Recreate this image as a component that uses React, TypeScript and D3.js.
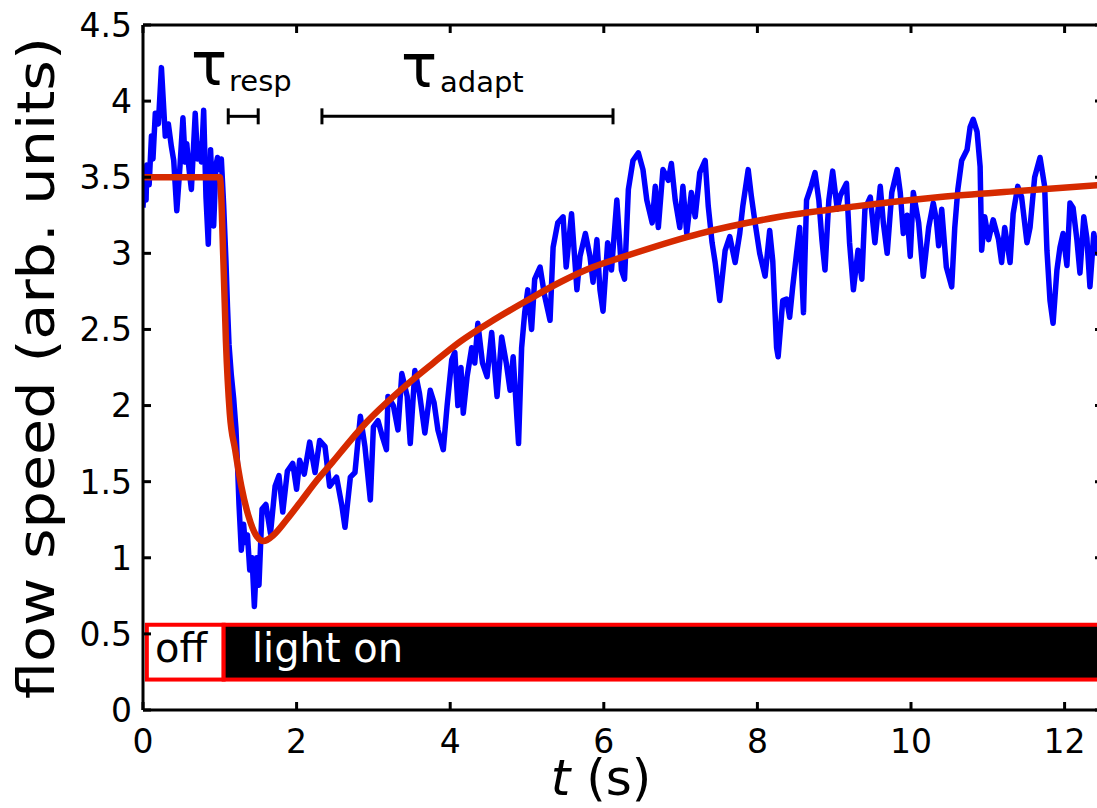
import React from "react";
import * as d3 from "d3";

// ---- data ----
const blueT = [
  0.00, 0.02, 0.04, 0.05, 0.08, 0.11, 0.13, 0.16, 0.20, 0.24, 0.27, 0.29, 0.33, 0.37, 0.40, 0.44, 0.48, 0.52, 0.55, 0.57,
  0.60, 0.63, 0.68, 0.71, 0.73, 0.76, 0.79, 0.82, 0.85, 0.88, 0.92, 0.95, 0.97, 1.00, 1.02, 1.05, 1.08, 1.10, 1.12, 1.15,
  1.18, 1.21, 1.23, 1.25, 1.28, 1.31, 1.33, 1.36, 1.39, 1.42, 1.45, 1.48, 1.51, 1.55, 1.60, 1.66, 1.72, 1.77, 1.82, 1.88,
  1.95, 2.00, 2.04, 2.10, 2.17, 2.24, 2.30, 2.37, 2.43, 2.52, 2.59, 2.63, 2.70, 2.76, 2.83, 2.89, 2.96, 3.00, 3.06, 3.12,
  3.17, 3.19, 3.26, 3.32, 3.37, 3.44, 3.48, 3.54, 3.60, 3.67, 3.74, 3.79, 3.84, 3.91, 3.96, 4.02, 4.06, 4.10, 4.14, 4.17,
  4.22, 4.28, 4.32, 4.36, 4.42, 4.48, 4.54, 4.61, 4.67, 4.73, 4.78, 4.82, 4.87, 4.89, 4.93, 4.97, 5.01, 5.06, 5.10, 5.17,
  5.23, 5.30, 5.34, 5.40, 5.47, 5.51, 5.58, 5.65, 5.69, 5.76, 5.82, 5.86, 5.91, 5.95, 5.99, 6.05, 6.10, 6.17, 6.23, 6.27,
  6.32, 6.38, 6.45, 6.51, 6.56, 6.63, 6.67, 6.71, 6.77, 6.84, 6.88, 6.93, 6.99, 7.03, 7.08, 7.14, 7.19, 7.25, 7.32, 7.36,
  7.41, 7.45, 7.51, 7.58, 7.64, 7.71, 7.77, 7.81, 7.88, 7.92, 7.97, 8.03, 8.10, 8.16, 8.20, 8.25, 8.27, 8.33, 8.38, 8.42,
  8.46, 8.51, 8.55, 8.60, 8.64, 8.70, 8.75, 8.80, 8.84, 8.88, 8.93, 8.98, 9.04, 9.08, 9.16, 9.20, 9.25, 9.31, 9.36, 9.40,
  9.47, 9.53, 9.60, 9.64, 9.69, 9.75, 9.82, 9.86, 9.90, 9.95, 9.99, 10.03, 10.10, 10.16, 10.23, 10.29, 10.33, 10.36, 10.40, 10.46,
  10.53, 10.57, 10.61, 10.66, 10.73, 10.77, 10.81, 10.86, 10.90, 10.92, 10.96, 11.01, 11.07, 11.14, 11.18, 11.22, 11.29, 11.33, 11.39, 11.44,
  11.51, 11.55, 11.61, 11.68, 11.74, 11.77, 11.81, 11.85, 11.90, 11.94, 11.98, 12.03, 12.07, 12.11, 12.16, 12.20, 12.25, 12.29, 12.33, 12.38,
  12.42, 12.50,
];
const blueV = [
  3.30, 3.50, 3.35, 3.58, 3.45, 3.77, 3.62, 3.92, 3.85, 4.22, 3.95, 3.77, 3.85, 3.70, 3.61, 3.28, 3.56, 3.89, 3.60, 3.72,
  3.55, 3.42, 3.92, 3.62, 3.72, 3.60, 3.94, 3.37, 3.06, 3.68, 3.18, 3.58, 3.63, 3.55, 3.62, 3.32, 2.95, 2.65, 2.40, 2.20,
  2.05, 1.85, 1.62, 1.35, 1.05, 1.22, 1.10, 1.15, 0.92, 1.00, 0.68, 1.00, 0.82, 1.32, 1.35, 1.16, 1.47, 1.54, 1.30, 1.57,
  1.62, 1.45, 1.64, 1.55, 1.76, 1.56, 1.77, 1.73, 1.47, 1.53, 1.34, 1.20, 1.53, 1.56, 1.93, 1.73, 1.38, 1.86, 1.90, 1.79,
  1.71, 2.06, 2.00, 1.84, 2.21, 2.06, 1.75, 2.23, 2.08, 1.82, 2.10, 2.02, 1.84, 1.71, 2.00, 2.30, 2.35, 2.00, 2.25, 1.95,
  2.19, 2.38, 2.28, 2.54, 2.28, 2.19, 2.48, 2.06, 2.45, 2.28, 2.10, 2.32, 1.91, 1.75, 2.38, 2.61, 2.76, 2.50, 2.83, 2.91,
  2.72, 2.56, 3.04, 3.20, 3.24, 2.91, 3.26, 2.76, 2.98, 3.13, 2.98, 2.81, 3.09, 2.76, 2.62, 3.07, 2.89, 3.35, 2.89, 2.83,
  3.42, 3.61, 3.66, 3.55, 3.35, 3.20, 3.44, 3.17, 3.55, 3.48, 3.59, 3.35, 3.17, 3.44, 3.13, 3.40, 3.24, 3.53, 3.61, 3.31,
  3.07, 2.94, 2.69, 3.02, 3.11, 2.94, 3.13, 3.31, 3.55, 3.38, 3.20, 3.00, 2.85, 3.15, 2.95, 2.38, 2.32, 2.69, 2.70, 2.58,
  2.78, 3.00, 3.17, 2.61, 3.35, 3.44, 3.53, 3.35, 3.09, 2.89, 3.35, 3.54, 3.29, 3.38, 3.46, 3.07, 2.76, 3.02, 2.83, 3.29,
  3.37, 3.07, 3.44, 3.20, 3.00, 3.40, 3.55, 3.40, 3.13, 3.25, 2.98, 3.40, 3.20, 2.85, 3.17, 3.33, 3.22, 3.05, 3.29, 2.91,
  2.78, 3.17, 3.42, 3.61, 3.68, 3.83, 3.88, 3.80, 3.57, 3.02, 3.24, 3.09, 3.22, 3.09, 2.94, 3.17, 2.94, 3.26, 3.44, 3.37,
  3.07, 3.17, 3.50, 3.63, 3.44, 3.02, 2.69, 2.54, 2.89, 3.04, 3.13, 2.92, 3.33, 3.30, 3.09, 2.87, 3.24, 3.10, 2.78, 3.13,
  3.00, 3.05,
];

const fitT = [0, 1.0, 1.05, 1.08, 1.13, 1.2, 1.28, 1.37, 1.47, 1.57, 1.7, 1.87, 2.04, 2.25, 2.47, 2.7, 2.91, 3.35, 3.78, 4.13, 4.56, 5.0, 5.43, 5.86, 6.21, 7.25, 8.29, 9.3, 10.38, 11.4, 12.5];
const fitV = [3.5, 3.5, 2.9, 2.42, 1.95, 1.71, 1.47, 1.28, 1.15, 1.11, 1.15, 1.25, 1.36, 1.5, 1.63, 1.77, 1.89, 2.1, 2.28, 2.42, 2.56, 2.69, 2.81, 2.91, 2.97, 3.13, 3.24, 3.31, 3.37, 3.41, 3.45];

const xTicks = [0, 2, 4, 6, 8, 10, 12];
const yTicks = [0, 0.5, 1, 1.5, 2, 2.5, 3, 3.5, 4, 4.5];
const yTickLabels = ["0", "0.5", "1", "1.5", "2", "2.5", "3", "3.5", "4", "4.5"];

const lightBar = { offStart: 0.05, onStart: 1.05, end: 12.45, low: 0.2, high: 0.56 };
const tauResp = { from: 1.11, to: 1.5, level: 3.9 };
const tauAdapt = { from: 2.33, to: 6.12, level: 3.9 };

const W = 1097;
const H = 808;
const FONT = "'DejaVu Sans', sans-serif";

export default function App() {
  const x = d3.scaleLinear().domain([0, 12.5]).range([143, 1103]);
  const y = d3.scaleLinear().domain([0, 4.5]).range([710, 25]);

  const blue = blueT.map((t, i) => [t, blueV[i]] as [number, number]);
  const fit = fitT.map((t, i) => [t, fitV[i]] as [number, number]);
  const line = d3.line<[number, number]>().x((d) => x(d[0])).y((d) => y(d[1]));
  const fitLine = d3
    .line<[number, number]>()
    .x((d) => x(d[0]))
    .y((d) => y(d[1]))
    .curve(d3.curveMonotoneX);

  const [x0, x1] = x.range();
  const [y0, y1] = y.range();
  const tick = 8;

  const bracket = (b: { from: number; to: number; level: number }) => {
    const yy = y(b.level);
    return (
      <g stroke="#000" strokeWidth={3} fill="none">
        <line x1={x(b.from)} x2={x(b.to)} y1={yy} y2={yy} />
        <line x1={x(b.from)} x2={x(b.from)} y1={yy - 8} y2={yy + 8} />
        <line x1={x(b.to)} x2={x(b.to)} y1={yy - 8} y2={yy + 8} />
      </g>
    );
  };

  return (
    <svg
      width={W}
      height={H}
      style={{ position: "absolute", left: 0, top: 0, background: "#fff" }}
      fontFamily={FONT}
    >
      <defs>
        <clipPath id="plot">
          <rect x={x0} y={y1} width={x1 - x0} height={y0 - y1} />
        </clipPath>
      </defs>

      {/* light bar */}
      <g>
        <rect
          x={x(lightBar.offStart)}
          y={y(lightBar.high)}
          width={x(lightBar.onStart) - x(lightBar.offStart)}
          height={y(lightBar.low) - y(lightBar.high)}
          fill="#fff"
          stroke="#ff0000"
          strokeWidth={4}
        />
        <rect
          x={x(lightBar.onStart)}
          y={y(lightBar.high)}
          width={x(lightBar.end) - x(lightBar.onStart)}
          height={y(lightBar.low) - y(lightBar.high)}
          fill="#000"
          stroke="#ff0000"
          strokeWidth={4}
        />
        <text x={155} y={662} fontSize={40} fill="#000">off</text>
        <text x={252} y={662} fontSize={40} fill="#fff">light on</text>
      </g>

      {/* data */}
      <g clipPath="url(#plot)">
        <path d={line(blue) || ""} fill="none" stroke="#0000ff" strokeWidth={5.5} strokeLinejoin="round" />
        <path d={fitLine(fit) || ""} fill="none" stroke="#d62a00" strokeWidth={6.5} strokeLinejoin="round" />
      </g>

      {/* axes box */}
      <g stroke="#000" strokeWidth={3} fill="none">
        <line x1={x0} x2={x1} y1={y0} y2={y0} />
        <line x1={x0} x2={x1} y1={y1} y2={y1} />
        <line x1={x0} x2={x0} y1={y0} y2={y1} />
        <line x1={x1} x2={x1} y1={y0} y2={y1} />
        {xTicks.map((t) => (
          <g key={"xt" + t}>
            <line x1={x(t)} x2={x(t)} y1={y0} y2={y0 - tick} />
            <line x1={x(t)} x2={x(t)} y1={y1} y2={y1 + tick} />
          </g>
        ))}
        {yTicks.map((t) => (
          <g key={"yt" + t}>
            <line x1={x0} x2={x0 + tick} y1={y(t)} y2={y(t)} />
            <line x1={x1} x2={x1 - tick} y1={y(t)} y2={y(t)} />
          </g>
        ))}
      </g>

      {/* tick labels */}
      <g fontSize={33} fill="#000">
        {xTicks.map((t) => (
          <text key={"xl" + t} x={x(t)} y={753} textAnchor="middle">
            {String(t)}
          </text>
        ))}
        {yTicks.map((t, i) => (
          <text key={"yl" + t} x={132} y={y(t)} dy="0.36em" textAnchor="end">
            {yTickLabels[i]}
          </text>
        ))}
      </g>

      {/* axis titles */}
      <text
        transform="translate(54,368) rotate(-90)"
        textAnchor="middle"
        fontSize={52}
        fill="#000"
        textLength={662}
        lengthAdjust="spacingAndGlyphs"
      >
        flow speed (arb. units)
      </text>
      <text x={601} y={795} textAnchor="middle" fontSize={50} fill="#000">
        <tspan fontStyle="italic">t</tspan>
        <tspan> (s)</tspan>
      </text>

      {/* annotations */}
      <text x={191} y={85} fontSize={60} fill="#000">τ</text>
      <text x={229} y={91} fontSize={29} fill="#000">resp</text>
      {bracket(tauResp)}
      <text x={401} y={87} fontSize={60} fill="#000">τ</text>
      <text x={440} y={92} fontSize={29} fill="#000">adapt</text>
      {bracket(tauAdapt)}
    </svg>
  );
}
